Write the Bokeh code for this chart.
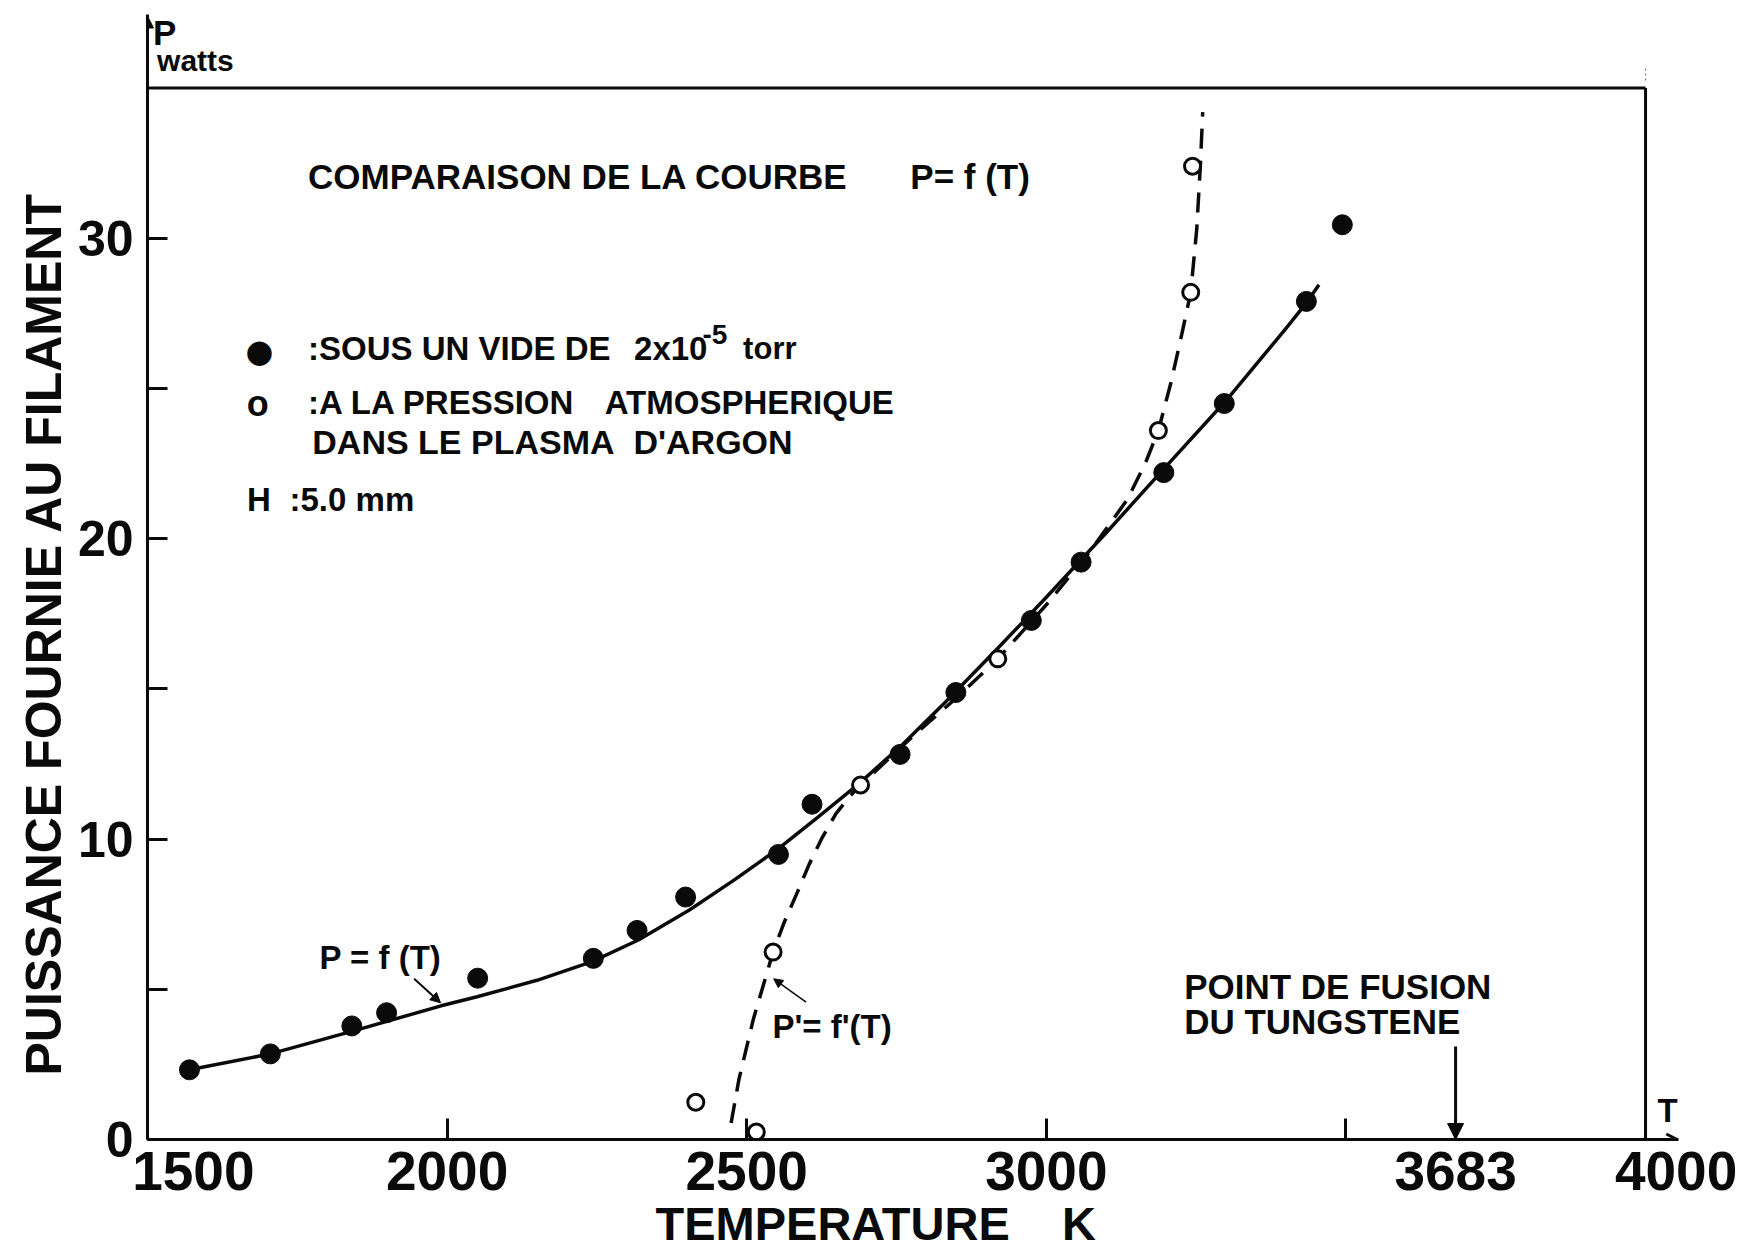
from bokeh.plotting import figure
from bokeh.models import Range1d, FixedTicker, Label, Arrow, NormalHead, OpenHead, Title
from bokeh.embed import file_html
from bokeh.resources import INLINE

# Filament power vs temperature, under vacuum (2e-5 torr)
t_vacuum = [1570, 1705, 1841, 1899, 2051, 2244, 2317, 2398, 2553, 2609, 2756, 2849, 2975, 3058, 3196, 3297, 3434, 3494]
p_vacuum = [2.32, 2.85, 3.78, 4.22, 5.37, 6.03, 6.96, 8.07, 9.49, 11.16, 12.82, 14.88, 17.28, 19.22, 22.2, 24.5, 27.9, 30.45]

# Same filament at atmospheric pressure in the argon plasma
t_argon = [2415, 2516, 2544, 2690, 2919, 3187, 3241, 3244]
p_argon = [1.24, 0.25, 6.24, 11.8, 16.0, 23.6, 28.2, 32.4]

# Hand-drawn curves P = f(T) and P' = f'(T)
t_curve_vacuum = [1570, 1705, 1841, 1990, 2050, 2150, 2242, 2320, 2405, 2480, 2554, 2620, 2687, 2760, 2831,
                  2919, 3000, 3058, 3100, 3195, 3300, 3400, 3434, 3455]
p_curve_vacuum = [2.32, 2.85, 3.6, 4.45, 4.75, 5.3, 5.92, 6.65, 7.65, 8.65, 9.7, 10.75, 11.84, 13.15, 14.55,
                  16.35, 18.05, 19.3, 20.2, 22.3, 24.6, 27.0, 27.85, 28.45]

t_curve_argon = [2474, 2487, 2511, 2544, 2563, 2585, 2604, 2626, 2649, 2671, 2690, 2776, 2850, 2919, 3000,
                 3070, 3135, 3165, 3187, 3208, 3226, 3241, 3251, 3257, 3261]
p_curve_argon = [0.55, 2.0, 4.0, 6.24, 7.25, 8.25, 9.15, 10.05, 10.85, 11.4, 11.8, 13.4, 14.7, 16.0, 17.8,
                 19.5, 21.3, 22.5, 23.6, 25.2, 26.8, 28.2, 30.3, 32.4, 34.2]

# Axis ticks
x_ticks = [1500, 2000, 2500, 3000, 3500, 3683, 4000]
x_tick_labels = {1500: "\u00a0" * 6 + "1500", 2000: "2000", 2500: "2500", 3000: "3000",
                 3500: "", 3683: "3683", 4000: "\u00a0" * 4 + "4000"}
y_ticks = [0, 10, 20, 30]
y_minor_ticks = [5, 15, 25]
melting_point = 3683

# Drawing box: T from 1500 to 4000 K, P from 0 to 35 W
box_t = (1500, 4000)
box_p = (0, 35)

FONT = "Liberation Sans"
INK = "#0a0a0a"

p = figure(width=1755, height=1249,
           x_range=Range1d(1500, 4055), y_range=Range1d(0, 37.45),
           output_backend="svg", toolbar_location=None,
           min_border_left=147, min_border_right=77,
           min_border_top=14, min_border_bottom=110)
p.grid.visible = False
p.background_fill_color = "white"
p.border_fill_color = "white"
p.outline_line_color = None

xa = p.xaxis[0]
xa.ticker = FixedTicker(ticks=x_ticks)
xa.major_label_overrides = x_tick_labels
xa.axis_line_width = 3
xa.axis_line_color = INK
xa.major_tick_in = 21
xa.major_tick_out = 0
xa.minor_tick_in = 0
xa.minor_tick_out = 0
xa.major_tick_line_width = 3
xa.major_tick_line_color = INK
xa.major_label_text_font = FONT
xa.major_label_text_font_style = "bold"
xa.major_label_text_font_size = "55px"
xa.major_label_text_color = INK
xa.major_label_standoff = 0

ya = p.yaxis[0]
ya.ticker = FixedTicker(ticks=y_ticks, minor_ticks=y_minor_ticks)
ya.axis_line_width = 3
ya.axis_line_color = INK
ya.major_tick_in = 20
ya.major_tick_out = 0
ya.minor_tick_in = 20
ya.minor_tick_out = 0
ya.major_tick_line_width = 3
ya.minor_tick_line_width = 3
ya.major_tick_line_color = INK
ya.minor_tick_line_color = INK
ya.major_label_text_font = FONT
ya.major_label_text_font_style = "bold"
ya.major_label_text_font_size = "50px"
ya.major_label_text_color = INK
ya.major_label_standoff = 14

# Axis titles
p.add_layout(Title(text="PUISSANCE FOURNIE AU FILAMENT", align="left", offset=64, standoff=6,
                   text_font=FONT, text_font_style="bold", text_font_size="50px",
                   text_color=INK), "left")
p.add_layout(Title(text="TEMPERATURE\u00a0\u00a0\u00a0\u00a0K", align="left", offset=508, standoff=-19,
                   text_font=FONT, text_font_style="bold", text_font_size="47px",
                   text_color=INK), "below")

# Top and right edges of the box, plus the faint mark above the corner
p.segment(x0=[box_t[0], box_t[1]], y0=[box_p[1], box_p[0]], x1=[box_t[1], box_t[1]], y1=[box_p[1], box_p[1]],
          line_width=3, line_color=INK)
p.segment(x0=[box_t[1]], y0=[box_p[1] + 0.25], x1=[box_t[1]], y1=[box_p[1] + 0.75],
          line_width=1.2, line_color="#777777", line_dash="2 3")

# Curves
p.line(t_curve_vacuum, p_curve_vacuum, line_width=3.5, line_color=INK, line_join="round")
p.line(t_curve_argon, p_curve_argon, line_width=3.5, line_color=INK, line_dash="20 12")

# Measurements
p.scatter(t_vacuum, p_vacuum, marker="circle", size=20, fill_color=INK, line_color=INK)
p.scatter(t_argon, p_argon, marker="circle", size=16, fill_color="white", line_color=INK, line_width=3)


def label(x, y, text, size, align="left", baseline="alphabetic", angle=0, font=FONT, style="bold"):
    p.add_layout(Label(x=x, y=y, text=text, text_font=font, text_font_size=f"{size}px",
                       text_font_style=style, text_color=INK, text_align=align,
                       text_baseline=baseline, angle=angle))


# Axis end marks
label(1509, 36.84, "P", 35)
label(1516, 35.91, "watts", 30)
label(4020, 0.95, "T", 33)
p.add_layout(Arrow(x_start=1500, y_start=35, x_end=1500, y_end=37.4, line_width=3, line_color=INK,
                   end=NormalHead(size=12, fill_color=INK, line_color=INK)))
p.add_layout(Arrow(x_start=4000, y_start=0, x_end=4053, y_end=0, line_width=3, line_color=INK,
                   end=OpenHead(size=11, line_width=3, line_color=INK)))

# Heading
label(1768, 32.07, "COMPARAISON DE LA COURBE", 35)
label(2773, 32.07, "P= f (T)", 35)

# Key
label(1687, 26.26, "\u25cf", 32, align="center", baseline="middle", font="DejaVu Sans", style="normal")
label(1768, 26.33, ":SOUS UN VIDE DE", 33)
label(2312, 26.33, "2x10", 33)
label(2426, 26.8, "-5", 28)
label(2494, 26.33, "torr", 31)
label(1684, 24.5, "o", 36, align="center", baseline="middle")
label(1768, 24.54, ":A LA PRESSION", 33)
label(2263, 24.54, "ATMOSPHERIQUE", 33)
label(1775, 23.23, "DANS LE PLASMA\u00a0\u00a0D'ARGON", 34)
label(1666, 21.3, "H", 33)
label(1737, 21.3, ":5.0 mm", 33)

# Curve names
label(1787, 6.06, "P = f (T)", 33)
p.add_layout(Arrow(x_start=1945, y_start=5.35, x_end=1989, y_end=4.55, line_width=2, line_color=INK,
                   end=NormalHead(size=10, fill_color=INK, line_color=INK)))
label(2543, 3.75, "P'= f'(T)", 33)
p.add_layout(Arrow(x_start=2599, y_start=4.57, x_end=2545, y_end=5.35, line_width=1.5, line_color=INK,
                   end=NormalHead(size=9, fill_color=INK, line_color=INK)))

# Melting point of tungsten
label(3230, 5.08, "POINT DE FUSION", 35)
label(3230, 3.93, "DU TUNGSTENE", 35)
p.add_layout(Arrow(x_start=melting_point, y_start=3.1, x_end=melting_point, y_end=0, line_width=3, line_color=INK,
                   end=NormalHead(size=16, fill_color=INK, line_color=INK)))

open("out.html", "w").write(file_html(p, INLINE))
